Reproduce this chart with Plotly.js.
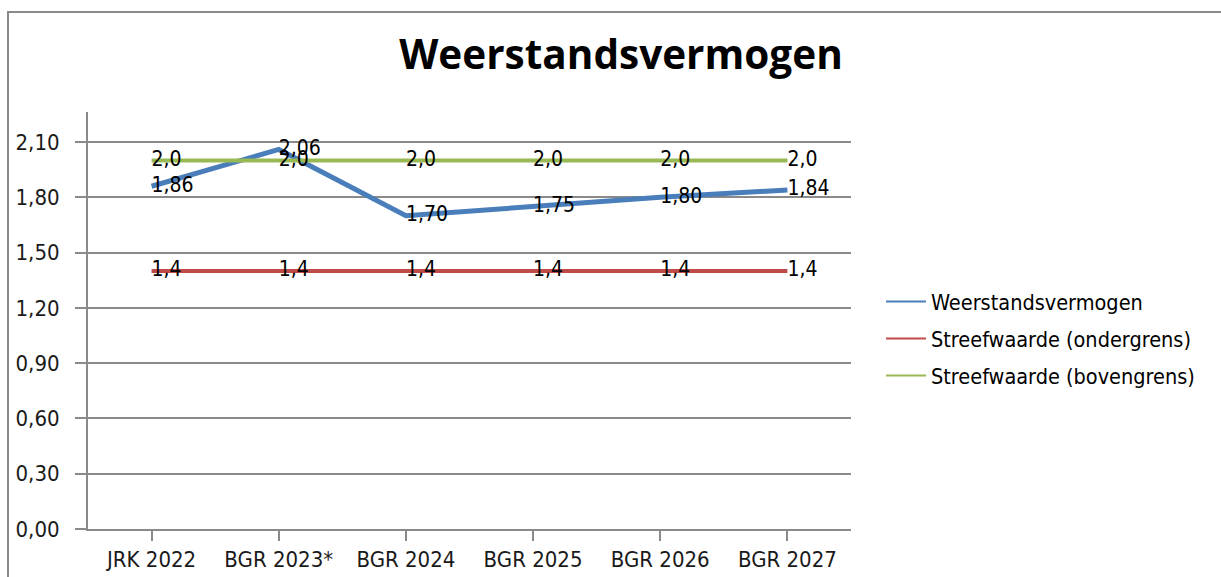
<!DOCTYPE html>
<html>
<head>
<meta charset="utf-8">
<script src="https://cdn.plot.ly/plotly-3.0.1.min.js"></script>
<style>
  html, body { margin: 0; padding: 0; background: #ffffff; }
  #chart { position: absolute; left: 0; top: 0; width: 1221px; height: 577px; }
  #frame { position: absolute; left: 7px; top: 11px; width: 1300px; height: 700px;
           border-top: 2px solid #8a8a8a; border-left: 2px solid #8a8a8a; pointer-events: none; }
</style>
</head>
<body>
<div id="chart"></div>
<div id="frame"></div>
<script>
const categories = ["JRK 2022", "BGR 2023*", "BGR 2024", "BGR 2025", "BGR 2026", "BGR 2027"];
const weerstandsvermogen = [1.86, 2.06, 1.70, 1.75, 1.80, 1.84];
const ondergrens = [1.4, 1.4, 1.4, 1.4, 1.4, 1.4];
const bovengrens = [2.0, 2.0, 2.0, 2.0, 2.0, 2.0];
const yTicks = [0, 0.3, 0.6, 0.9, 1.2, 1.5, 1.8, 2.1];
const seriesNames = ["Weerstandsvermogen", "Streefwaarde (ondergrens)", "Streefwaarde (bovengrens)"];
const seriesColors = ["#4A7EBB", "#BE4B48", "#98B954"];

const fmt = (v, d) => v.toFixed(d).replace('.', ',');
const baseFont = "DejaVu Sans Condensed, DejaVu Sans, sans-serif";
const labelFont = { family: baseFont, size: 21, color: "#000000" };

const dataSeries = [
  { y: weerstandsvermogen, dec: 2, width: 5 },
  { y: ondergrens, dec: 1, width: 4 },
  { y: bovengrens, dec: 1, width: 4 }
];

const traces = [];
// plotted lines with data labels
dataSeries.forEach((s, i) => {
  traces.push({
    x: categories, y: s.y, name: seriesNames[i],
    type: "scatter", mode: "lines+text", showlegend: false,
    line: { color: seriesColors[i], width: s.width },
    text: s.y.map(v => fmt(v, s.dec)), textposition: "middle right",
    textfont: labelFont, cliponaxis: false
  });
});
// legend entries (thin lines, as in the reference legend)
seriesNames.forEach((n, i) => {
  traces.push({
    x: [categories[0]], y: [null], name: n, type: "scatter", mode: "lines",
    legendgroup: "g" + i, showlegend: true,
    line: { color: seriesColors[i], width: 2 }
  });
});

const layout = {
  width: 1221, height: 577,
  margin: { l: 88, r: 370, t: 112, b: 48, pad: 0 },
  paper_bgcolor: "rgba(0,0,0,0)", plot_bgcolor: "#ffffff",
  separators: ",.",
  title: {
    text: "<b>Weerstandsvermogen</b>",
    font: { family: "Open Sans, sans-serif", size: 40.5, color: "#000000" },
    x: 621 / 1221, xanchor: "center", xref: "container",
    y: 1 - 55 / 577, yanchor: "middle", yref: "container"
  },
  xaxis: {
    type: "category", range: [-0.5, 5.5],
    showline: true, linecolor: "#8a8a8a", linewidth: 2,
    ticks: "outside", ticklen: 10, tickwidth: 2, tickcolor: "#8a8a8a",
    showgrid: false, zeroline: false,
    tickfont: { family: baseFont, size: 22, color: "#1a1a1a" }
  },
  yaxis: {
    range: [0, 2.263], tickvals: yTicks, ticktext: yTicks.map(v => fmt(v, 2)),
    showline: true, linecolor: "#8a8a8a", linewidth: 2,
    ticks: "outside", ticklen: 11, tickwidth: 2, tickcolor: "#8a8a8a",
    showgrid: true, gridcolor: "#8a8a8a", gridwidth: 2, zeroline: false,
    ticklabelstandoff: 11,
    tickfont: { family: baseFont, size: 22, color: "#1a1a1a" }
  },
  showlegend: true,
  legend: {
    xref: "container", yref: "container",
    x: 881 / 1221, xanchor: "left", y: 1 - 281 / 577, yanchor: "top",
    font: { family: baseFont, size: 21.5, color: "#000000" },
    itemwidth: 40, tracegroupgap: 6, traceorder: "grouped",
    bgcolor: "rgba(0,0,0,0)"
  }
};

Plotly.newPlot("chart", traces, layout, { displayModeBar: false, staticPlot: true });
</script>
</body>
</html>
